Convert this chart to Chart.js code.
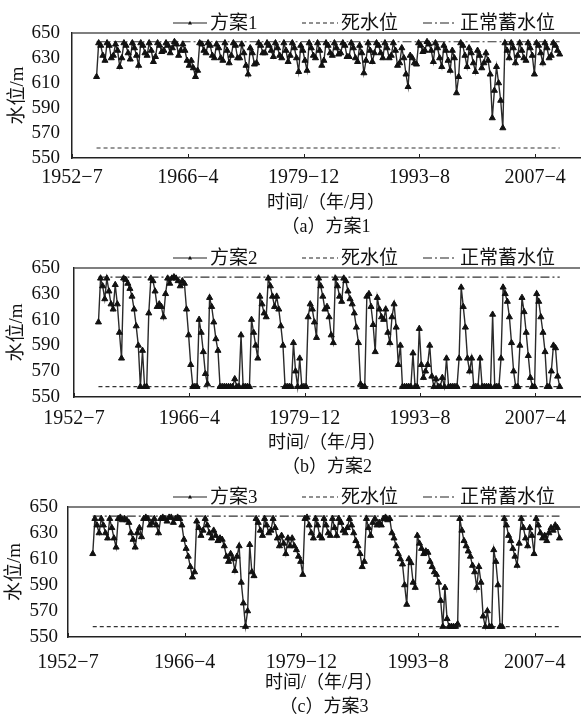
<!DOCTYPE html>
<html><head><meta charset="utf-8">
<script src="https://cdn.jsdelivr.net/npm/chart.js@4.4.0/dist/chart.umd.min.js"></script>
<style>
html,body{margin:0;padding:0;background:#fff;}
body{width:585px;height:720px;position:relative;overflow:hidden;}
.panel{position:absolute;left:0;width:585px;height:240px;}
canvas{display:block;}
</style></head><body>
<div class="panel" style="top:0"><canvas id="c1" width="585" height="240"></canvas></div>
<div class="panel" style="top:240px"><canvas id="c2" width="585" height="240"></canvas></div>
<div class="panel" style="top:480px"><canvas id="c3" width="585" height="240"></canvas></div>
<script>
// x axis: months counted from 1952-7
const tickMonths = [0, 165, 330, 495, 660];
const tickLabels = ['1952−7', '1966−4', '1979−12', '1993−8', '2007−4'];
const firstSampleMonth = 35;   // 1955-6
const sampleStep = 3;          // quarterly samples (Jun, Sep, Dec, Mar)
const deadLevel = 558;         // 死水位
const normalLevel = 643;       // 正常蓄水位

// 方案1 water level (m), 4 samples per year 1955-2009, last 2010-6
const scheme1 = [
 615,642,640,632, 628,642,640,630, 632,641,636,623, 630,642,640,634, 629,642,638,632,
 624,642,640,634, 632,642,636,627, 631,642,640,635, 636,642,640,634, 638,643,641,632,
 636,641,636,628, 624,628,622,615, 620,642,641,636, 634,642,640,632, 630,641,638,630,
 628,642,636,626, 632,642,640,630, 630,641,634,624, 617,638,634,625, 626,642,640,634,
 634,642,640,636, 631,642,638,632, 630,642,636,627, 632,642,638,630, 619,640,636,628,
 620,642,638,632, 630,642,636,624, 628,642,640,634, 632,642,638,633, 634,642,640,631,
 631,642,638,630, 627,640,634,618, 628,642,636,627, 634,642,640,634, 630,642,638,630,
 632,642,636,624, 626,638,630,617, 607,632,630,626, 625,642,640,635, 636,643,641,636,
 627,642,638,630, 623,640,636,628, 620,636,630,602, 615,642,640,632, 623,638,634,626,
 619,636,632,622, 626,634,628,617, 582,604,623,610, 596,574,642,636, 630,642,638,626,
 632,642,636,630, 628,642,638,632, 617,642,640,634, 626,642,638,630, 632,642,640,636,
 633
];
// 方案2
const scheme2 = [
 608,642,636,626, 642,632,622,618, 637,622,600,580, 642,641,638,634, 628,618,605,590,
 558,586,558,558, 615,642,640,632, 620,622,620,612, 630,642,638,642, 643,642,640,636,
 640,638,618,598, 575,558,558,558, 610,600,585,568, 560,627,620,608, 595,586,558,558,
 558,558,558,558, 558,564,558,558, 598,558,558,558, 558,610,600,590, 580,628,622,615,
 612,642,636,628, 620,628,618,605, 590,558,558,558, 558,592,570,558, 580,558,558,558,
 612,622,618,608, 596,642,636,628, 618,620,612,598, 592,642,636,628, 624,642,640,632,
 626,622,615,604, 592,560,558,558, 628,630,620,606, 585,627,618,612, 610,618,600,592,
 612,622,604,575, 590,558,558,558, 558,558,584,558, 558,603,575,565, 570,575,590,566,
 558,564,558,558, 565,558,580,558, 558,558,558,558, 580,635,620,604, 580,570,580,558,
 558,558,580,558, 558,558,558,558, 614,558,558,558, 580,635,630,624, 612,592,570,558,
 558,590,627,616, 600,582,565,558, 558,630,624,612, 600,585,558,558, 570,590,588,566,
 558
];
// 方案3
const scheme3 = [
 614,641,636,630, 641,636,630,626, 641,634,626,619, 641,642,640,641, 640,638,630,625,
 619,630,634,627, 641,642,641,636, 638,641,636,630, 641,642,641,639, 642,642,638,641,
 642,641,636,625, 618,612,604,596, 600,639,634,628, 632,641,636,630, 626,632,628,624,
 626,625,620,612, 608,614,610,601, 612,620,592,576, 558,570,621,600, 597,641,638,632,
 628,641,636,630, 632,641,634,626, 620,628,622,614, 626,620,626,620, 617,612,608,598,
 641,642,636,630, 626,641,636,628, 626,641,636,630, 628,641,634,628, 641,638,632,630,
 634,641,636,630, 624,620,614,604, 608,641,634,628, 638,641,636,638, 636,641,642,640,
 641,630,626,620, 614,610,606,590, 575,610,607,592, 588,628,622,618, 614,616,615,608,
 604,600,598,592, 578,558,588,564, 558,558,558,558, 560,641,632,624, 620,616,612,605,
 600,588,604,592, 566,558,570,558, 558,617,608,590, 558,558,641,636, 628,624,618,612,
 605,622,641,634, 626,620,634,628, 614,641,636,630, 626,628,624,630, 634,632,636,634,
 626
];

const FONT = "'Liberation Serif', 'Noto Sans CJK SC', serif";
Chart.defaults.font.family = FONT;
Chart.defaults.color = '#111';

const legendPlugin = {
  id: 'paperLegend',
  afterDraw(chart) {
    const ctx = chart.ctx;
    const y = chart.chartArea.top - 10;
    const spots = [{x: 173, w: 34}, {x: 302, w: 36}, {x: 423, w: 34}];
    ctx.save();
    chart.data.datasets.forEach((ds, i) => {
      const s = spots[i];
      ctx.strokeStyle = '#222';
      ctx.lineWidth = 1.2;
      ctx.setLineDash(ds.borderDash || []);
      ctx.beginPath();
      ctx.moveTo(s.x, y);
      ctx.lineTo(s.x + s.w, y);
      ctx.stroke();
      ctx.setLineDash([]);
      if (ds.pointRadius > 0) {
        ctx.fillStyle = '#111';
        ctx.beginPath();
        ctx.moveTo(s.x + s.w / 2, y - 2.2);
        ctx.lineTo(s.x + s.w / 2 + 2, y + 1.4);
        ctx.lineTo(s.x + s.w / 2 - 2, y + 1.4);
        ctx.closePath();
        ctx.fill();
      }
      ctx.fillStyle = '#111';
      ctx.font = '19px ' + FONT;
      ctx.textBaseline = 'middle';
      ctx.textAlign = 'left';
      ctx.fillText(ds.label, s.x + s.w + 3, y + 1);
    });
    ctx.restore();
  }
};

const framePlugin = {
  id: 'frame',
  afterDraw(chart) {
    const {ctx, chartArea} = chart;
    const xs = chart.scales.x;
    ctx.save();
    ctx.strokeStyle = '#555';
    ctx.lineWidth = 1.5;
    ctx.beginPath();
    ctx.moveTo(chartArea.left, chartArea.top);
    ctx.lineTo(chartArea.right, chartArea.top);
    ctx.stroke();
    ctx.strokeStyle = '#222';
    ctx.lineWidth = 1;
    tickMonths.forEach(m => {
      const px = Math.round(xs.getPixelForValue(m)) + 0.5;
      ctx.beginPath();
      ctx.moveTo(px, chartArea.bottom);
      ctx.lineTo(px, chartArea.bottom - 4);
      ctx.stroke();
    });
    ctx.restore();
  }
};

function makeChart(id, label, values, caption, g) {
  const months = values.map((_, i) => firstSampleMonth + i * sampleStep);
  const lastMonth = months[months.length - 1];
  new Chart(document.getElementById(id), {
    type: 'line',
    data: {
      datasets: [
        {
          label: label,
          data: values.map((v, i) => ({x: months[i], y: v})),
          borderColor: '#2a2a2a', borderWidth: 1.4,
          pointStyle: 'triangle', pointRadius: 3.5, pointBorderWidth: 1,
          pointBackgroundColor: '#111', pointBorderColor: '#111',
          tension: 0
        },
        {
          label: '死水位',
          data: [{x: months[0], y: deadLevel}, {x: lastMonth, y: deadLevel}],
          borderColor: '#333', borderWidth: 1.2, borderDash: [4, 3], pointRadius: 0
        },
        {
          label: '正常蓄水位',
          data: [{x: months[0], y: normalLevel}, {x: lastMonth, y: normalLevel}],
          borderColor: '#333', borderWidth: 1.2, borderDash: [9, 3, 2, 3], pointRadius: 0
        }
      ]
    },
    options: {
      responsive: false,
      animation: false,
      events: [],
      layout: {padding: {top: g.top, left: 0, right: 0, bottom: 0}},
      plugins: {legend: {display: false}, title: {display: false}, tooltip: {enabled: false}},
      scales: {
        x: {
          type: 'linear', min: 0, max: 724,
          afterBuildTicks: s => { s.ticks = tickMonths.map(v => ({value: v})); },
          ticks: {
            callback: v => tickLabels[tickMonths.indexOf(v)],
            font: {size: 20}, color: '#111', padding: g.tickPad,
            maxRotation: 0, autoSkip: false
          },
          grid: {display: false},
          border: {display: true, color: '#222', width: 1.5},
          title: {
            display: true, text: ['时间/（年/月）', caption],
            font: {size: 18, lineHeight: 1.33}, color: '#111',
            padding: {top: 0, bottom: 1}
          },
          afterFit: s => { s.height = 240 - g.bottom; }
        },
        y: {
          min: 550, max: 650,
          ticks: {stepSize: 20, font: {size: 19}, color: '#111', padding: g.yTickPad, autoSkip: false},
          grid: {display: false},
          border: {display: true, color: '#222', width: 1.5},
          title: {
            display: true, text: '水位/m', font: {size: 19}, color: '#111',
            padding: {top: g.yTitlePad, bottom: 0}
          },
          afterFit: s => { s.width = g.left; }
        }
      }
    },
    plugins: [legendPlugin, framePlugin]
  });
}

makeChart('c1', '方案1', scheme1, '（a）方案1', {top: 33, bottom: 158, left: 72, tickPad: 0, yTickPad: 4, yTitlePad: 7});
makeChart('c2', '方案2', scheme2, '（b）方案2', {top: 28, bottom: 157, left: 74, tickPad: 2, yTickPad: 6, yTitlePad: 6});
makeChart('c3', '方案3', scheme3, '（c）方案3', {top: 27, bottom: 157, left: 68, tickPad: 6, yTickPad: 2, yTitlePad: 4});
</script>
</body></html>
